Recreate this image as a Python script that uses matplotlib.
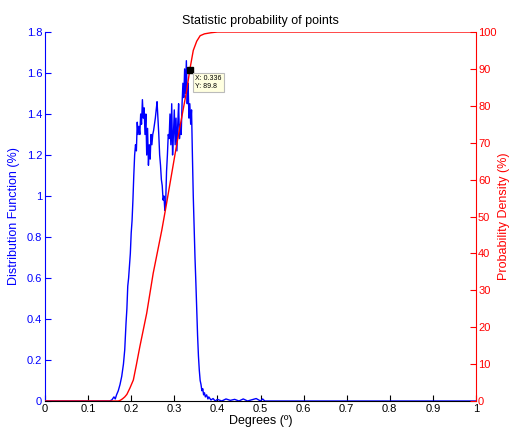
import matplotlib
matplotlib.use("Agg")
import matplotlib.pyplot as plt

plt.rcParams['font.family'] = ['Liberation Sans', 'DejaVu Sans']

blue_x = [0, 0.15, 0.155, 0.16, 0.163, 0.166, 0.17, 0.174, 0.178, 0.182, 0.185, 0.188, 0.19, 0.192,
          0.194, 0.196, 0.198, 0.2, 0.202, 0.204, 0.206, 0.208, 0.21, 0.212, 0.214, 0.216, 0.218,
          0.22, 0.222, 0.224, 0.226, 0.228, 0.23, 0.232, 0.234, 0.236, 0.238, 0.24, 0.242, 0.244,
          0.246, 0.248, 0.25, 0.252, 0.254, 0.256, 0.258, 0.26, 0.262, 0.264, 0.266, 0.268, 0.27,
          0.272, 0.274, 0.276, 0.278, 0.28, 0.282, 0.284, 0.286, 0.288, 0.29, 0.292, 0.294, 0.296,
          0.298, 0.3, 0.302, 0.304, 0.306, 0.308, 0.31, 0.312, 0.314, 0.316, 0.318, 0.32, 0.322,
          0.324, 0.326, 0.328, 0.33, 0.332, 0.334, 0.336, 0.338, 0.34, 0.342, 0.344, 0.346, 0.348,
          0.35, 0.352, 0.354, 0.356, 0.358, 0.36, 0.362, 0.364, 0.366, 0.368, 0.37, 0.372, 0.375,
          0.378, 0.38, 0.385, 0.39, 0.395, 0.4, 0.41, 0.42, 0.43, 0.44, 0.45, 0.46, 0.47, 0.48,
          0.49, 0.5, 0.505, 0.51, 1.0]
blue_y = [0, 0, 0.005, 0.02, 0.01, 0.03, 0.05, 0.08, 0.12, 0.18, 0.25, 0.38, 0.45, 0.56,
          0.6, 0.66, 0.72, 0.82, 0.88, 0.98, 1.1, 1.2, 1.25, 1.22, 1.36,
          1.3, 1.34, 1.3, 1.4, 1.35, 1.47, 1.38, 1.43, 1.3, 1.4, 1.2, 1.33, 1.15, 1.25, 1.18,
          1.3, 1.25, 1.3, 1.32, 1.35, 1.38, 1.42, 1.46, 1.38, 1.3, 1.2, 1.15, 1.08,
          1.05, 0.98, 1.0, 0.93, 0.97, 1.12, 1.2, 1.3, 1.28, 1.4, 1.25, 1.45, 1.2,
          1.3, 1.42, 1.25, 1.38, 1.22, 1.35, 1.45, 1.28, 1.35, 1.3, 1.45, 1.55, 1.48,
          1.62, 1.5, 1.66, 1.45, 1.55, 1.38, 1.45, 1.35, 1.42, 1.2, 1.0, 0.85, 0.7,
          0.58, 0.45, 0.32, 0.22, 0.15, 0.1, 0.08, 0.05, 0.06, 0.03, 0.04, 0.02, 0.03,
          0.01, 0.02, 0.005, 0.012, 0.0, 0.008, 0.0, 0.01, 0.003, 0.008, 0.0, 0.01, 0.0, 0.006,
          0.012, 0.0, 0.01, 0, 0]

red_x = [0, 0.17, 0.175, 0.18, 0.185, 0.19, 0.197, 0.205, 0.212, 0.22, 0.236, 0.251, 0.271,
         0.282, 0.306, 0.329, 0.336, 0.344, 0.352, 0.36, 0.37, 0.385, 0.4, 1.0]
red_y = [0, 0, 0.2, 0.6, 1.1, 1.8, 3.5, 5.7, 9.8, 14.7, 23.8, 34.6, 46.3,
         53.5, 69.8, 84.3, 89.8, 95, 97.5, 99, 99.5, 99.8, 100, 100]

tip_x, tip_y = 0.336, 89.8

fig = plt.figure(figsize=(5.1, 4.28), dpi=100)
ax = fig.add_axes([45/510, 27/428, 431/510, 369/428])
ax2 = ax.twinx()

ax.plot(blue_x, blue_y, color='blue', lw=1.0)
ax2.plot(red_x, red_y, color='red', lw=1.0)

ax.set_xlim(0, 1)
ax.set_ylim(0, 1.8)
ax2.set_ylim(0, 100)
ax.set_xticks([i/10 for i in range(11)])
ax.set_xticklabels(['0', '0.1', '0.2', '0.3', '0.4', '0.5', '0.6', '0.7', '0.8', '0.9', '1'])
ax.set_yticks([i*0.2 for i in range(10)])
ax.set_yticklabels(['0', '0.2', '0.4', '0.6', '0.8', '1', '1.2', '1.4', '1.6', '1.8'])
ax2.set_yticks(range(0, 101, 10))

for a in (ax, ax2):
    a.spines['top'].set_visible(False)
ax.spines['left'].set_color('blue')
ax.spines['right'].set_visible(False)
ax2.spines['right'].set_color('red')
ax2.spines['left'].set_visible(False)
ax2.spines['bottom'].set_visible(False)

ax.tick_params(axis='x', direction='in', labelsize=8, length=4, pad=2)
ax.tick_params(axis='y', direction='in', colors='blue', labelsize=8, length=4, pad=2)
ax2.tick_params(axis='y', direction='in', colors='red', labelsize=8, length=4, pad=1.5)

ax.set_xlabel('Degrees (º)', fontsize=9, labelpad=1)
ax.set_ylabel('Distribution Function (%)', color='blue', fontsize=9, labelpad=5)
ax2.set_ylabel('Probability Density (%)', color='red', fontsize=9, labelpad=1)
ax.set_title('Statistic probability of points', fontsize=9, pad=6)

ax2.plot([tip_x], [tip_y], marker='s', color='black', ms=4, ls='none')
ax2.annotate(f'X: {tip_x}\nY: {tip_y}', xy=(tip_x, tip_y), xytext=(4, -4),
             textcoords='offset points', fontsize=5, va='top', ha='left',
             bbox=dict(boxstyle='square,pad=0.3', fc='#ffffe0', ec='#bbbbbb', lw=0.8))

fig.savefig('out.png', dpi=100)
